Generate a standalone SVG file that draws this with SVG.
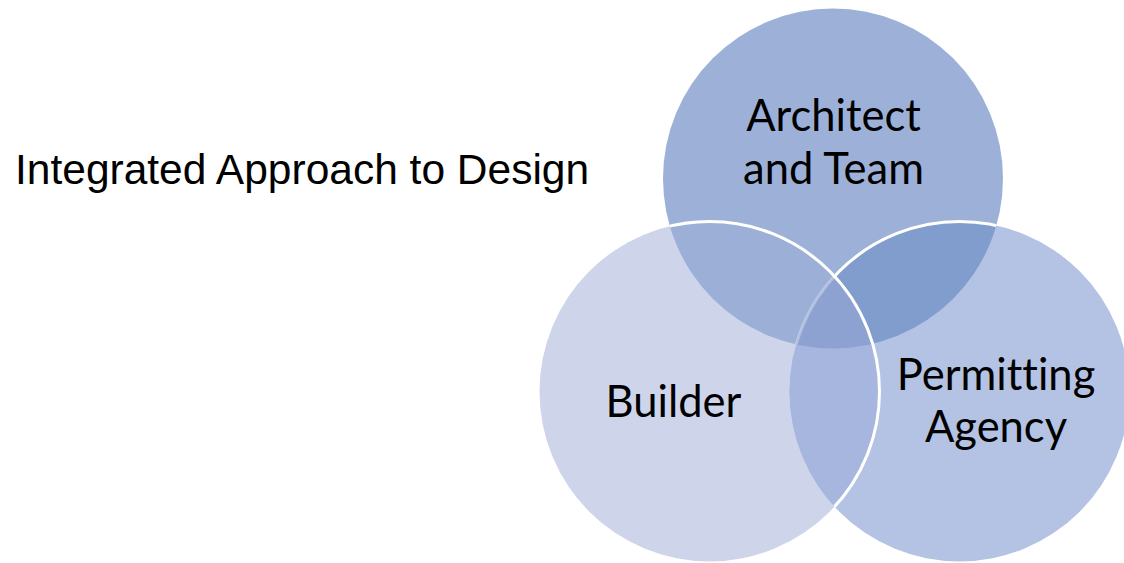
<svg xmlns="http://www.w3.org/2000/svg" width="1124" height="563" viewBox="0 0 1124 563">
  <style>
    .title { font-family: "Liberation Sans", Arial, sans-serif; font-size: 42.5px; fill: #000; }
    .label { font-family: Lato, "Open Sans", sans-serif; font-size: 43.5px; fill: #000; text-anchor: middle; font-variant-ligatures: none; }
    .edge { fill: none; stroke: #fff; stroke-width: 3; }
  </style>
  <defs>
    <clipPath id="clipA"><circle cx="833" cy="178.5" r="170"/></clipPath>
    <clipPath id="clipB"><circle cx="709.5" cy="391.5" r="170"/></clipPath>
    <clipPath id="clipC"><circle cx="959.5" cy="391.5" r="170"/></clipPath>
    <clipPath id="clipAorC">
      <circle cx="833" cy="178.5" r="170"/>
      <circle cx="959.5" cy="391.5" r="170"/>
    </clipPath>
    <!-- area of the top circle outside the left circle -->
    <mask id="maskAnotB" maskUnits="userSpaceOnUse" x="0" y="0" width="1124" height="563">
      <circle cx="833" cy="178.5" r="170" fill="#fff"/>
      <circle cx="709.5" cy="391.5" r="170" fill="#000"/>
    </mask>
    <!-- area shared by the top and left circles -->
    <mask id="maskAandB" maskUnits="userSpaceOnUse" x="0" y="0" width="1124" height="563">
      <g clip-path="url(#clipB)">
        <circle cx="833" cy="178.5" r="170" fill="#fff"/>
      </g>
    </mask>
  </defs>

  <rect width="1124" height="563" fill="#fff"/>

  <text class="title" x="15" y="184">Integrated Approach to Design</text>

  <g id="node-architect">
    <circle cx="833" cy="178.5" r="170" fill="#9DB1D8"/>
  </g>
  <g id="node-builder">
    <circle cx="709.5" cy="391.5" r="170" fill="#CED5EA"/>
  </g>
  <g id="node-permitting">
    <circle cx="959.5" cy="391.5" r="170" fill="#B4C3E3"/>
  </g>

  <!-- overlap shading -->
  <g id="overlaps">
    <circle cx="833" cy="178.5" r="170" fill="#9CB0D7" clip-path="url(#clipB)"/>
    <circle cx="833" cy="178.5" r="170" fill="#819DCE" clip-path="url(#clipC)"/>
    <circle cx="709.5" cy="391.5" r="170" fill="#A7B6DF" clip-path="url(#clipC)"/>
    <g clip-path="url(#clipB)">
      <circle cx="833" cy="178.5" r="170" fill="#8EA2D2" clip-path="url(#clipC)"/>
    </g>
  </g>

  <!-- white outlines -->
  <g id="outlines">
    <circle class="edge" cx="959.5" cy="391.5" r="170" mask="url(#maskAnotB)"/>
    <circle class="edge" cx="959.5" cy="391.5" r="170" mask="url(#maskAandB)" stroke-opacity="0.3"/>
    <circle class="edge" cx="709.5" cy="391.5" r="170" clip-path="url(#clipAorC)"/>
  </g>

  <g id="labels">
    <text class="label" x="833.5" y="131">Architect</text>
    <text class="label" x="833.5" y="184">and Team</text>
    <text class="label" x="673.5" y="417">Builder</text>
    <text class="label" x="996" y="390">Permitting</text>
    <text class="label" x="996" y="442">Agency</text>
  </g>
</svg>
